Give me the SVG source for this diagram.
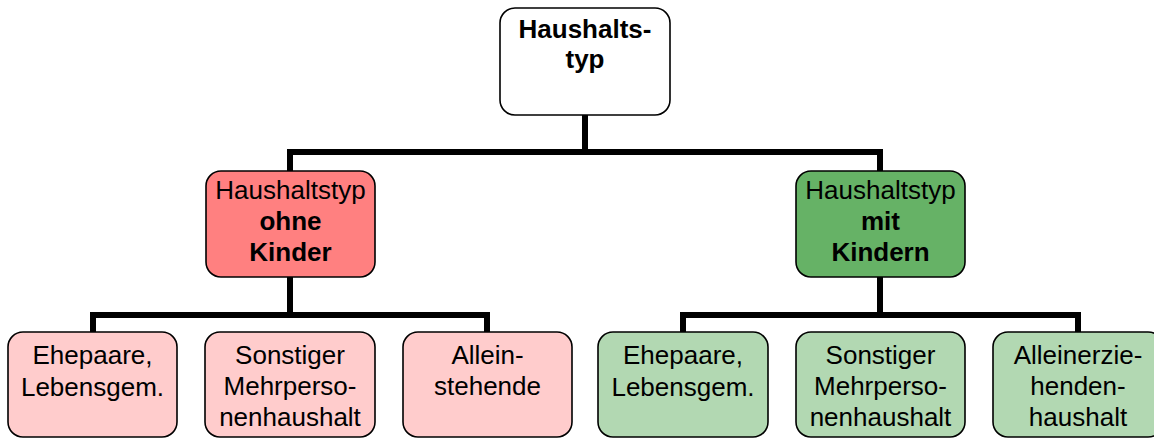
<svg xmlns="http://www.w3.org/2000/svg" width="1154" height="439" viewBox="0 0 1154 439">
<style>
.box{stroke:#000;stroke-width:1.6}
.t{font-family:"Liberation Sans",Arial,sans-serif;font-size:26px;text-anchor:middle;fill:#000}
.b{font-weight:bold}
.c{fill:none;stroke:#000;stroke-width:6}
</style>
<rect width="1154" height="439" fill="#fff"/>
<g id="connectors">
<path class="c" d="M585 115V152M290 171V152H880V171"/>
<path class="c" d="M290 277V315M93 332V315H487V332"/>
<path class="c" d="M880 277V315M683 332V315H1078V332"/>
</g>
<g id="root">
<rect class="box" x="500" y="8" width="170" height="107" rx="15" fill="#fff"/>
<text class="t b" x="585" y="38">Haushalts-</text>
<text class="t b" x="585" y="68">typ</text>
</g>
<g id="ohne">
<rect class="box" x="206" y="171" width="169" height="106" rx="15" fill="#FF8080"/>
<text class="t" x="290.5" y="199">Haushaltstyp</text>
<text class="t b" x="290.5" y="230">ohne</text>
<text class="t b" x="290.5" y="261">Kinder</text>
</g>
<g id="mit">
<rect class="box" x="796" y="171" width="169" height="106" rx="15" fill="#66B266"/>
<text class="t" x="880.5" y="199">Haushaltstyp</text>
<text class="t b" x="880.5" y="230">mit</text>
<text class="t b" x="880.5" y="261">Kindern</text>
</g>
<g id="o1">
<rect class="box" x="8" y="332" width="169" height="105" rx="15" fill="#FFCCCC"/>
<text class="t" x="92.5" y="364">Ehepaare,</text>
<text class="t" x="92.5" y="396">Lebensgem.</text>
</g>
<g id="o2">
<rect class="box" x="205" y="332" width="170" height="105" rx="15" fill="#FFCCCC"/>
<text class="t" x="290" y="364">Sonstiger</text>
<text class="t" x="290" y="395">Mehrperso-</text>
<text class="t" x="290" y="426">nenhaushalt</text>
</g>
<g id="o3">
<rect class="box" x="403" y="332" width="169" height="105" rx="15" fill="#FFCCCC"/>
<text class="t" x="487.5" y="364">Allein-</text>
<text class="t" x="487.5" y="395">stehende</text>
</g>
<g id="m1">
<rect class="box" x="598" y="332" width="170" height="105" rx="15" fill="#B2D8B2"/>
<text class="t" x="683" y="364">Ehepaare,</text>
<text class="t" x="683" y="396">Lebensgem.</text>
</g>
<g id="m2">
<rect class="box" x="796" y="332" width="169" height="105" rx="15" fill="#B2D8B2"/>
<text class="t" x="880.5" y="364">Sonstiger</text>
<text class="t" x="880.5" y="395">Mehrperso-</text>
<text class="t" x="880.5" y="426">nenhaushalt</text>
</g>
<g id="m3">
<rect class="box" x="993" y="332" width="170" height="105" rx="15" fill="#B2D8B2"/>
<text class="t" x="1078" y="364">Alleinerzie-</text>
<text class="t" x="1078" y="395">henden-</text>
<text class="t" x="1078" y="426">haushalt</text>
</g>
</svg>
